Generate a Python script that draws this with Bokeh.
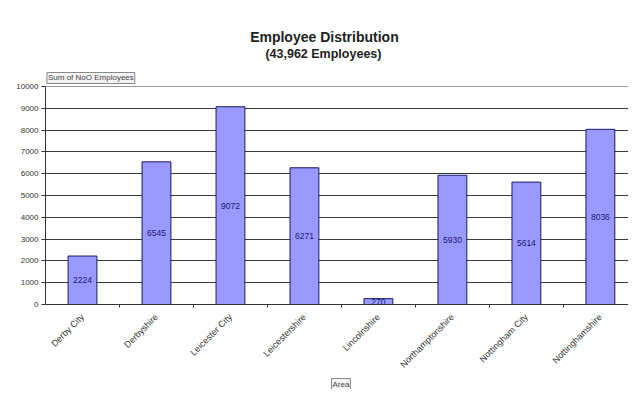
import math
from bokeh.plotting import figure
from bokeh.models import (Range1d, FixedTicker, Grid, Title, Label,
                          ColumnDataSource, LabelSet)
from bokeh.core.properties import value
from bokeh.embed import file_html
from bokeh.resources import INLINE

# ---- data ----
areas = ["Derby City", "Derbyshire", "Leicester City", "Leicestershire",
         "Lincolnshire", "Northamptonshire", "Nottingham City", "Nottinghamshire"]
employees = [2224, 6545, 9072, 6271, 270, 5930, 5614, 8036]
y_ticks = [0, 1000, 2000, 3000, 4000, 5000, 6000, 7000, 8000, 9000, 10000]
title_text = "Employee Distribution"
subtitle_text = "(43,962  Employees)"
y_field = "Sum of NoO Employees"
x_field = "Area"

FONT = "Liberation Sans"
W, H = 628, 389

xs = [i + 0.5 for i in range(len(areas))]
src = ColumnDataSource(dict(x=xs, top=employees, mid=[v / 2 for v in employees],
                            lab=[str(v) for v in employees]))

# frame spans the whole height above the x axis; the value axis stops at 10000
p = figure(width=W, height=H, output_backend="svg", toolbar_location=None,
           x_range=Range1d(0, 7.88), y_range=Range1d(0, 13945),
           min_border_left=45, min_border_right=0, min_border_top=0,
           min_border_bottom=5)
p.background_fill_color = "white"
p.border_fill_color = "white"
p.outline_line_color = None

p.vbar(x="x", top="top", width=0.39, source=src, fill_color="#9999FF",
       line_color="#1a1a66", line_width=1)

labels = LabelSet(x="x", y="mid", text="lab", source=src, text_align="center",
                  text_baseline="middle", text_font_size=value("8.5px"),
                  text_color=value("#1a1a70"), text_font=value(FONT))
p.add_layout(labels)

# grids
p.xgrid.visible = False
p.ygrid.visible = False
g1 = Grid(dimension=1, ticker=FixedTicker(ticks=y_ticks[:-1]),
          grid_line_color="#3a3a3a", grid_line_width=1)
g2 = Grid(dimension=1, ticker=FixedTicker(ticks=y_ticks[-1:]),
          grid_line_color="#9a9a9a", grid_line_width=1)
p.add_layout(g1)
p.add_layout(g2)

# x axis
xa = p.xaxis[0]
xa.ticker = FixedTicker(ticks=xs, minor_ticks=[1, 2, 3, 4, 5, 6, 7])
xa.major_label_overrides = {x: a for x, a in zip(xs, areas)}
xa.major_label_orientation = math.pi / 4
xa.major_tick_line_color = None
xa.minor_tick_in = 0
xa.minor_tick_out = 3
xa.minor_tick_line_color = "#333333"
xa.axis_line_color = "#333333"
xa.major_label_text_font = FONT
xa.major_label_text_font_size = "9px"
xa.major_label_text_color = "#333333"
xa.major_label_standoff = 5

# y axis
ya = p.yaxis[0]
ya.ticker = FixedTicker(ticks=y_ticks)
ya.bounds = (y_ticks[0], y_ticks[-1])
ya.major_tick_in = 0
ya.major_tick_out = 4
ya.minor_tick_line_color = None
ya.axis_line_color = "#333333"
ya.major_tick_line_color = "#333333"
ya.major_label_text_font = FONT
ya.major_label_text_font_size = "8px"
ya.major_label_text_color = "#333333"
ya.major_label_standoff = 3

# title, subtitle and value-field button inside the tall frame
p.add_layout(Label(x=3.77, y=12250, text=title_text, text_align="center",
                   text_baseline="middle", text_font=FONT, text_font_size="14px",
                   text_font_style="bold", text_color="#222222"))
p.add_layout(Label(x=3.78, y=11470, text=subtitle_text, text_align="center",
                   text_baseline="middle", text_font=FONT, text_font_size="12.5px",
                   text_font_style="bold", text_color="#222222"))
p.add_layout(Label(x=0.02, y=10390, text=y_field, text_align="left",
                   text_baseline="middle", text_font=FONT, text_font_size="8px",
                   text_color="#444444", border_line_color="#888888",
                   background_fill_color="#f4f4f4", padding=1))

# category-field button below the axis
p.add_layout(Title(text=x_field, align="left", offset=286, standoff=0,
                   text_font=FONT, text_font_size="8px", text_font_style="normal",
                   text_color="#444444", border_line_color="#888888",
                   background_fill_color="#f4f4f4", padding=1), "below")

open("out.html", "w").write(file_html(p, INLINE))
